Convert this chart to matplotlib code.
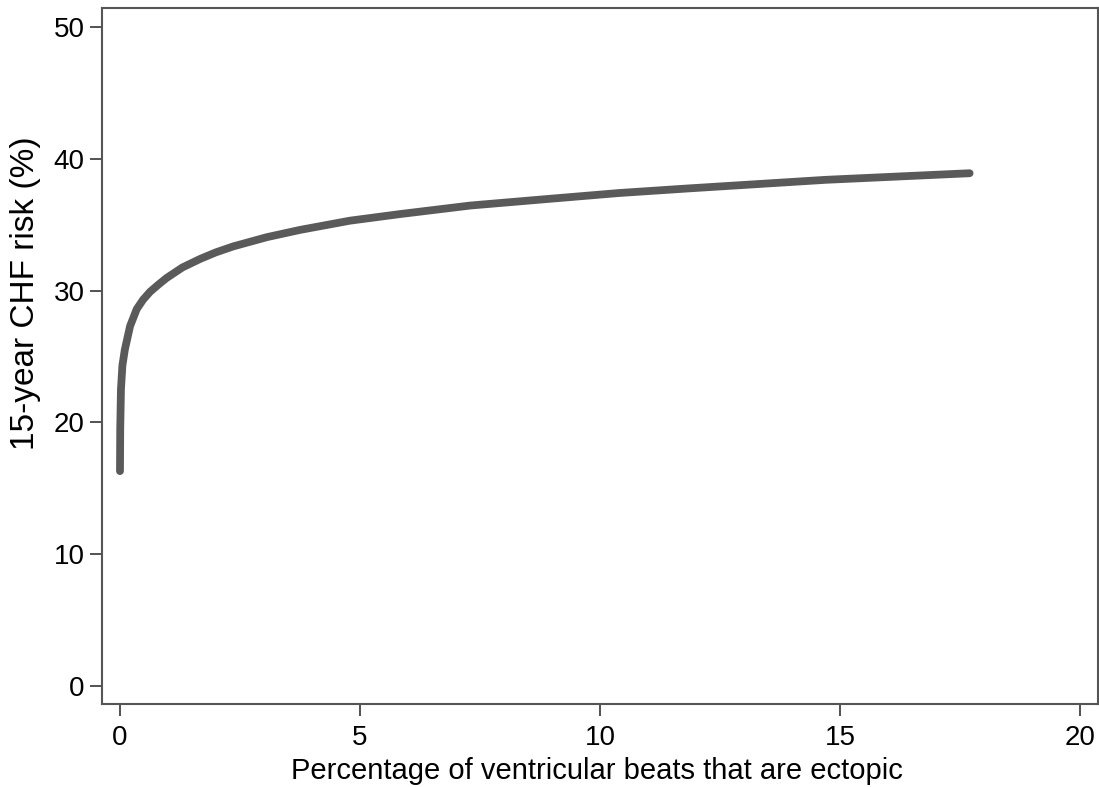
import matplotlib
matplotlib.use("Agg")
import matplotlib.pyplot as plt

plt.rcParams['font.family'] = ['Liberation Sans', 'DejaVu Sans']

# curve
pct_ectopic = [0, 0.005, 0.02, 0.05, 0.1, 0.21, 0.35, 0.48, 0.625, 0.8, 0.97,
               1.3, 1.67, 2.0, 2.36, 3.06, 3.75, 4.79, 5.83, 7.3, 8.92, 10.4,
               11.85, 14.7, 17.7]
chf_risk = [16.3, 19.5, 22.5, 24.3, 25.5, 27.3, 28.6, 29.3, 29.9, 30.45, 30.95,
            31.75, 32.4, 32.9, 33.35, 34.05, 34.6, 35.3, 35.8, 36.45, 36.95, 37.4,
            37.75, 38.4, 38.9]

x_ticks = [0, 5, 10, 15, 20]
y_ticks = [0, 10, 20, 30, 40, 50]

fig = plt.figure(figsize=(10.99, 7.87), dpi=100)
ax = fig.add_axes([0.0928, 0.1055, 0.9063, 0.8844])

ax.plot(pct_ectopic, chf_risk, color="#5a5a5a", linewidth=5.6,
        solid_capstyle="round", solid_joinstyle="round")

ax.set_xlim(-0.375, 20.375)
ax.set_ylim(-1.366, 51.44)
ax.set_xticks(x_ticks)
ax.set_yticks(y_ticks)
ax.tick_params(axis="both", direction="out", color="#444444", width=1.3,
               labelsize=20, length=8.6)
ax.tick_params(axis="y", pad=4)
ax.tick_params(axis="x", pad=6.5)

for s in ax.spines.values():
    s.set_color("#555555")
    s.set_linewidth(1.5)

# axis titles placed like the original
fig.text(597 / 1099, 1 - 779 / 787, "Percentage of ventricular beats that are ectopic",
         fontsize=21, ha="center", va="baseline")
fig.text(26 / 1099, 1 - 293 / 787, "15-year CHF risk (%)", fontsize=24,
         rotation=90, ha="center", va="center")

fig.savefig("out.png", dpi=100)
